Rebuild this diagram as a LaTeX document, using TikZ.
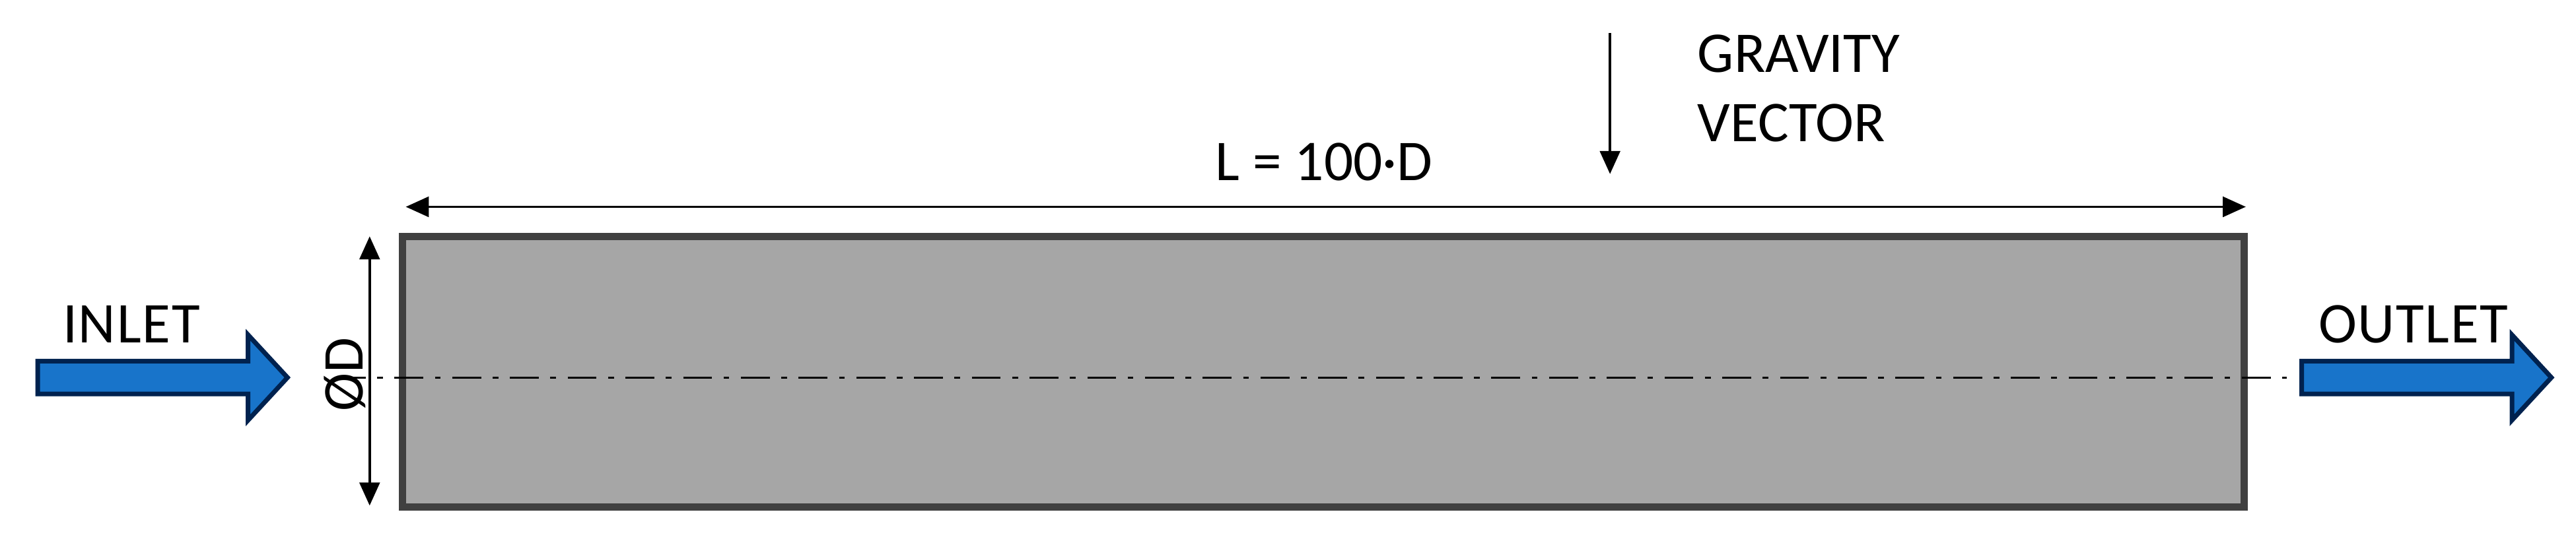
\documentclass[tikz,border=0pt]{standalone}
\usepackage{fontspec}
\setmainfont{Carlito}
\usetikzlibrary{arrows.meta}
\definecolor{pipefill}{HTML}{A6A6A6}
\definecolor{pipeline}{HTML}{404040}
\definecolor{flowblue}{HTML}{1874CA}
\definecolor{flowedge}{HTML}{00224F}
\tikzset{
  lbl/.style={font=\fontsize{20}{24}\selectfont, inner sep=0pt},
  dim/.style={line width=0.9pt, {Triangle[length=8pt,width=7pt]}-{Triangle[length=8pt,width=7pt]}},
  flow/.style={draw=flowedge, fill=flowblue, line width=1.6pt, line join=miter}
}
\begin{document}
\begin{tikzpicture}[x=0.02cm,y=-0.02cm]
\useasboundingbox (0,0) rectangle (1568,329.2);
\node[draw=pipeline, fill=pipefill, line width=2.6pt, minimum width=22.42cm, minimum height=3.3cm, inner sep=0pt] (pipe) at (805.5,226.5) {};
\coordinate (cl1) at (205,230);
\coordinate (cl2) at (1392,230);
\draw[line width=0.7pt, dash pattern=on 10pt off 4pt on 2pt off 4pt] (cl1) -- (cl2);
\draw[flow] (23,220) -- (151,220) -- (151,204) -- (175,230) -- (151,256) -- (151,240) -- (23,240) -- cycle;
\draw[flow] (1401,220) -- (1529,220) -- (1529,204) -- (1553,230) -- (1529,256) -- (1529,240) -- (1401,240) -- cycle;
\node[lbl, anchor=base, font=\fontsize{20}{24}\selectfont\addfontfeature{LetterSpace=2}] (intxt) at (80,209) {INLET};
\node[lbl, anchor=base, font=\fontsize{20}{24}\selectfont\addfontfeature{LetterSpace=2}] (outtxt) at (1469,209) {OUTLET};
\coordinate (dt) at (225,144);
\coordinate (db) at (225,308);
\draw[dim] (dt) -- (db);
\node[lbl, rotate=90] (dtxt) at (210,228) {ØD};
\coordinate (ll) at (247,126);
\coordinate (lr) at (1367,126);
\draw[dim] (ll) -- (lr);
\node[lbl, anchor=base] (ltxt) at (806,110) {L = 100·D};
\coordinate (g1) at (980,20);
\coordinate (g2) at (980,106);
\draw[line width=0.9pt, -{Triangle[length=8pt,width=7pt]}] (g1) -- (g2);
\node[lbl, anchor=north west, align=left] (gtxt) at (1033,21) {GRAVITY\\VECTOR};
\end{tikzpicture}
\end{document}
